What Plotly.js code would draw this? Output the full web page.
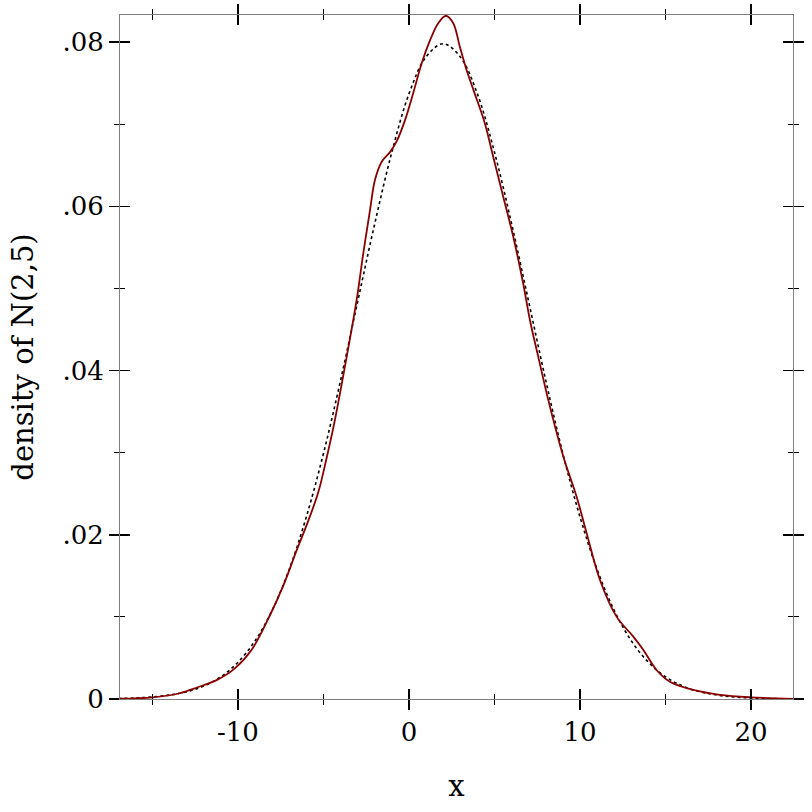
<!DOCTYPE html>
<html>
<head>
<meta charset="utf-8">
<script src="https://cdn.plot.ly/plotly-3.0.1.min.js"></script>
<style>html,body{margin:0;padding:0;background:#fff;}#chart{width:812px;height:812px;}</style>
</head>
<body>
<div id="chart"></div>
<script>
// Reference normal density N(2,5) (dotted)
const normalX = [-17,-16,-15,-14,-13,-12,-11,-10,-9,-8,-7,-6,-5,-4,-3,-2,-1,0,1,2,3,4,5,6,7,8,9,10,11,12,13,14,15,16,17,18,19,20,21,22,22.5];
const normalY = [0.00006,0.00012,0.00025,0.00048,0.00089,0.00158,0.00271,0.00448,0.00709,0.0108,0.0158,0.0222,0.0299,0.0388,0.0484,0.0579,0.0666,0.0737,0.0782,0.0798,0.0782,0.0737,0.0666,0.0579,0.0484,0.0388,0.0299,0.0222,0.0158,0.0108,0.00709,0.00448,0.00271,0.00158,0.00089,0.00048,0.00025,0.00012,0.00006,0.00003,0.00002];

// Estimated (kernel) density of the sample (solid dark red)
const kdeX = [-16.9,-15,-13.4,-12.4,-11.25,-10.2,-9.2,-8.13,-7.35,-6.57,-5.98,-5.3,-4.8,-4.33,-3.64,-3.06,-2.67,-2.28,-1.99,-1.6,-1.11,-0.7,-0.23,0.25,0.74,1.23,1.71,2.16,2.59,2.98,3.37,3.8,4.44,4.93,5.51,6.1,6.68,7.08,7.56,8.15,9.03,9.81,10.39,11.17,12.15,13.12,13.7,14.49,15.26,16.63,18.19,20,22.5];
const kdeY = [0.00003,0.0002,0.0007,0.0014,0.0023,0.0037,0.0060,0.0102,0.0138,0.0181,0.0212,0.0252,0.0295,0.0340,0.0417,0.0486,0.0543,0.0595,0.0632,0.0654,0.0666,0.0680,0.0705,0.0738,0.0774,0.0802,0.0823,0.0832,0.0823,0.0794,0.0766,0.0740,0.0701,0.0660,0.0612,0.0563,0.0506,0.0461,0.0417,0.0364,0.0295,0.0246,0.0202,0.0145,0.0100,0.0076,0.0060,0.0035,0.0021,0.0011,0.0005,0.0002,0.00002];

const xTickVals = [-10, 0, 10, 20];
const xTickText = ['-10', '0', '10', '20'];
const yTickVals = [0, 0.02, 0.04, 0.06, 0.08];
const yTickText = ['0', '.02', '.04', '.06', '.08'];

const xTitle = 'x';
const yTitle = 'density of N(2,5)';

const xRange = [-16.9, 22.46];
const yRange = [0, 0.0833];

const FONT = 'DejaVu Serif, serif';
const FS = 26;
const TFS = 29;

const traces = [
  {x: normalX, y: normalY, type: 'scatter', mode: 'lines',
   line: {color: '#000000', width: 1.6, dash: '3px,3px', shape: 'spline'}, hoverinfo: 'skip'},
  {x: kdeX, y: kdeY, type: 'scatter', mode: 'lines',
   line: {color: '#8b0000', width: 1.8, shape: 'spline', smoothing: 1}, hoverinfo: 'skip'},
  {x: [0], y: [0], xaxis: 'x2', yaxis: 'y2', type: 'scatter', mode: 'markers',
   marker: {opacity: 0}, hoverinfo: 'skip', showlegend: false}
];

const commonX = {
  range: xRange, showgrid: false, zeroline: false,
  showline: true, linecolor: '#808080', linewidth: 1,
  tickmode: 'array', tickvals: xTickVals, ticktext: xTickText,
  tickcolor: '#000', tickwidth: 1.5, ticklen: 10, mirror: 'ticks',
  minor: {tickmode: 'array', tickvals: [-15, -5, 5, 15], ticks: 'outside', ticklen: 5, tickcolor: '#000', tickwidth: 1, showgrid: false}
};
const commonY = {
  range: yRange, showgrid: false, zeroline: false,
  showline: true, linecolor: '#808080', linewidth: 1,
  tickmode: 'array', tickvals: yTickVals, ticktext: yTickText,
  tickcolor: '#000', tickwidth: 1.5, ticklen: 10, mirror: 'ticks',
  minor: {tickmode: 'array', tickvals: [0.01, 0.03, 0.05, 0.07], ticks: 'outside', ticklen: 5, tickcolor: '#000', tickwidth: 1, showgrid: false}
};

const layout = {
  width: 812, height: 812,
  margin: {l: 120, r: 19, t: 15, b: 113},
  paper_bgcolor: '#fff', plot_bgcolor: '#fff',
  showlegend: false,
  font: {family: FONT, size: FS, color: '#000'},
  xaxis: Object.assign({}, commonX, {
    ticks: 'outside', tickfont: {family: FONT, size: FS},
    title: {text: xTitle, font: {family: FONT, size: TFS}, standoff: 29}
  }),
  yaxis: Object.assign({}, commonY, {
    ticks: 'outside', tickfont: {family: FONT, size: FS},
    title: {text: yTitle, font: {family: FONT, size: TFS}, standoff: 20}
  }),
  xaxis2: Object.assign({}, commonX, {
    overlaying: 'x', ticks: 'inside', showticklabels: false, side: 'bottom',
    minor: Object.assign({}, commonX.minor, {ticks: 'inside'})
  }),
  yaxis2: Object.assign({}, commonY, {
    overlaying: 'y', ticks: 'inside', showticklabels: false, side: 'left',
    minor: Object.assign({}, commonY.minor, {ticks: 'inside'})
  })
};

Plotly.newPlot('chart', traces, layout, {displayModeBar: false, staticPlot: true});
</script>
</body>
</html>
